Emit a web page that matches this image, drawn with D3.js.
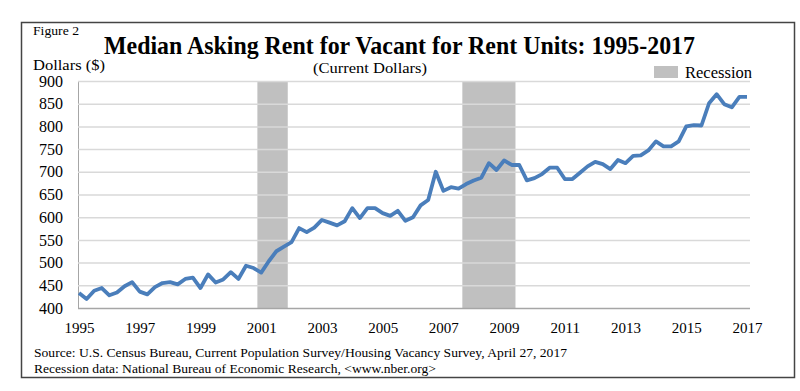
<!DOCTYPE html>
<html>
<head>
<meta charset="utf-8">
<script src="https://cdn.jsdelivr.net/npm/d3@7"></script>
<style>
  html, body { margin: 0; padding: 0; background: #fff; }
  svg { display: block; }
  text { font-family: "Liberation Serif", "Times New Roman", serif; fill: #000; }
</style>
</head>
<body>
<div id="chart"></div>
<script>
// ---- Data ----
const startYear = 1995;
const quarters = d3.range(89).map(i => (startYear + Math.floor(i / 4)) + "Q" + (i % 4 + 1));
const rent = [
  433, 420, 438, 444, 428, 434, 448, 457,
  436, 430, 446, 455, 457, 452, 464, 467,
  444, 474, 456, 463, 479, 464, 493, 488,
  478, 503, 525, 535, 545, 576, 567, 577,
  594, 588, 582, 591, 620, 598, 620, 620,
  609, 603, 614, 592, 600, 626, 638, 700,
  658, 666, 663, 673, 681, 687, 719, 704,
  725, 715, 715, 681, 686, 695, 709, 709,
  684, 684, 698, 712, 722, 717, 706, 726,
  719, 735, 736, 747, 767, 756, 756, 767,
  800, 803, 802, 851, 871, 849, 842, 865,
  865
];
const recessions = [["2001Q1", "2001Q4"], ["2007Q4", "2009Q2"]];
const xTickYears = ["1995","1997","1999","2001","2003","2005","2007","2009","2011","2013","2015","2017"];
const yTicks = [400, 450, 500, 550, 600, 650, 700, 750, 800, 850, 900];

// ---- Layout ----
const W = 800, H = 391;
const svg = d3.select("#chart").append("svg").attr("width", W).attr("height", H);

const plot = { left: 78, right: 750, top: 81, bottom: 308 };

const x = d3.scalePoint().domain(quarters).range([79, 747]);
const y = d3.scaleLinear().domain([400, 900]).range([plot.bottom, plot.top]);
const half = x.step() / 2;

// outer frame
svg.append("rect")
  .attr("x", 21.5).attr("y", 22.5).attr("width", 773).attr("height", 355)
  .attr("fill", "none").attr("stroke", "#444").attr("stroke-width", 1.5);

// recession bands
svg.append("g").selectAll("rect").data(recessions).join("rect")
  .attr("x", d => x(d[0]) - half)
  .attr("width", d => x(d[1]) - x(d[0]) + 2 * half)
  .attr("y", plot.top).attr("height", plot.bottom - plot.top)
  .attr("fill", "#c0c0c0");

// gridlines + y axis
const yAxis = svg.append("g")
  .attr("transform", `translate(${plot.left},0)`)
  .call(d3.axisLeft(y).tickValues(yTicks).tickSize(-(plot.right - plot.left)).tickPadding(15).tickFormat(d3.format("d")));
yAxis.select(".domain").attr("stroke", "#a6a6a6").attr("stroke-width", 1);
yAxis.selectAll(".tick line")
  .attr("stroke", d => d === 400 ? "#a6a6a6" : "#d9d9d9")
  .attr("stroke-width", 1.5);
yAxis.selectAll(".tick text")
  .attr("font-size", 16).attr("font-family", "Liberation Serif").attr("fill", "#000");

// x axis
const xAxis = svg.append("g")
  .attr("transform", `translate(0,${plot.bottom})`)
  .call(d3.axisBottom(x).tickValues(xTickYears.map(yr => yr + "Q1")).tickSize(0).tickPadding(14)
    .tickFormat(q => q.slice(0, 4)));
xAxis.select(".domain").remove();
xAxis.selectAll(".tick text")
  .attr("font-size", 15).attr("font-family", "Liberation Serif").attr("fill", "#000");

// line
const line = d3.line().x((d, i) => x(quarters[i])).y(d => y(d));
svg.append("path").datum(rent)
  .attr("d", line)
  .attr("fill", "none")
  .attr("stroke", "#4a7ebb")
  .attr("stroke-width", 3.8)
  .attr("stroke-linejoin", "round");

// texts
svg.append("text").attr("x", 33).attr("y", 35).attr("font-size", 12)
  .attr("textLength", 46).attr("lengthAdjust", "spacingAndGlyphs").text("Figure 2");
svg.append("text").attr("x", 104).attr("y", 54).attr("font-size", 25).attr("font-weight", "bold")
  .attr("textLength", 591).attr("lengthAdjust", "spacingAndGlyphs")
  .text("Median Asking Rent for Vacant for Rent Units: 1995-2017");
svg.append("text").attr("x", 33).attr("y", 69.5).attr("font-size", 15)
  .attr("textLength", 72).attr("lengthAdjust", "spacingAndGlyphs").text("Dollars ($)");
svg.append("text").attr("x", 313).attr("y", 73).attr("font-size", 15)
  .attr("textLength", 114).attr("lengthAdjust", "spacingAndGlyphs").text("(Current Dollars)");

// legend
svg.append("rect").attr("x", 654).attr("y", 66).attr("width", 24).attr("height", 12).attr("fill", "#c0c0c0");
svg.append("text").attr("x", 685).attr("y", 78).attr("font-size", 16)
  .attr("textLength", 67).attr("lengthAdjust", "spacingAndGlyphs").text("Recession");

// source notes
svg.append("text").attr("x", 34).attr("y", 357).attr("font-size", 13)
  .attr("textLength", 533).attr("lengthAdjust", "spacingAndGlyphs")
  .text("Source: U.S. Census Bureau, Current Population Survey/Housing Vacancy Survey, April 27, 2017");
svg.append("text").attr("x", 34).attr("y", 373).attr("font-size", 13)
  .attr("textLength", 402).attr("lengthAdjust", "spacingAndGlyphs")
  .text("Recession data: National Bureau of Economic Research, <www.nber.org>");
</script>
</body>
</html>
